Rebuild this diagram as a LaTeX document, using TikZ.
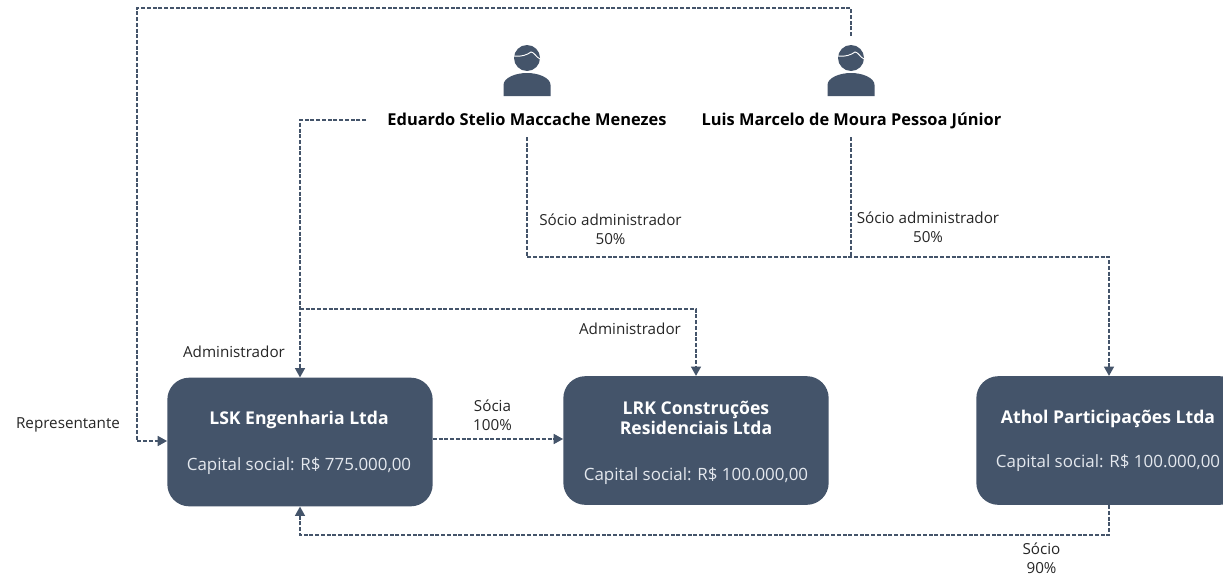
\documentclass[tikz,border=0pt]{standalone}
\usepackage{fontspec}
\setmainfont{Open Sans}
\usetikzlibrary{arrows.meta,calc}
\definecolor{slate}{HTML}{44546A}
\definecolor{boxtext}{HTML}{E4E8EE}
\tikzset{
  x=0.75pt,y=-0.75pt,
  company/.style={draw=none,fill=slate,rounded corners=16.5pt,minimum width=199pt,minimum height=96.5pt,inner sep=0pt},
  ctitle/.style={text=white,font=\fontsize{13.2}{15.6}\selectfont\bfseries,align=center,inner sep=0pt},
  csub/.style={text=boxtext,font=\fontsize{12.7}{14}\selectfont,inner sep=0pt},
  pname/.style={text=black,font=\fontsize{12.3}{14}\selectfont\bfseries,inner sep=0pt,anchor=base},
  lbl/.style={text=black!85,font=\fontsize{11.4}{14.2}\selectfont,align=center,inner sep=0pt},
  link/.style={draw=slate,line width=1.05pt,dash pattern=on 3pt off 1.3pt},
  tip/.style={-{Triangle[length=7pt,width=7.5pt,fill=slate]}},
  pics/person/.style={code={
    \fill[slate] (-23.5,38) -- (-23.5,27) .. controls (-23.5,20) and (-12,15) .. (0,15) .. controls (12,15) and (23.5,20) .. (23.5,27) -- (23.5,38) -- cycle;
    \fill[slate] (0,0) circle[radius=13];
    \draw[white,line width=0.7pt] (-13,-2) .. controls (-6,-1) and (0,-3) .. (4,-6) .. controls (7,-6) and (9,-1) .. (13,1);
  }}
}
\begin{document}
\begin{tikzpicture}
\path[use as bounding box] (0,0) rectangle (1223,578);
\clip (0,0) rectangle (1223,578);
\fill[white] (0,0) rectangle (1223,578);

\node[company] (lsk) at (300,442) {};
\node[company] (lrk) at (696,440.5) {};
\node[company] (athol) at (1109,440.5) {};

\node[ctitle] (lskT) at (299,420) {LSK Engenharia Ltda};
\node[csub] (lskS) at (299,466) {Capital social: R\$ 775.000,00};
\node[ctitle] (lrkT) at (696,418) {LRK Construções\\Residenciais Ltda};
\node[csub] (lrkS) at (696,476) {Capital social: R\$ 100.000,00};
\node[ctitle] (atholT) at (1108,419) {Athol Participações Ltda};
\node[csub] (atholS) at (1108,463) {Capital social: R\$ 100.000,00};

\path (527,58) pic {person};
\path (851,58) pic {person};
\node[pname] (edu) at (527,125) {Eduardo Stelio Maccache Menezes};
\node[pname] (luis) at (851.5,125) {Luis Marcelo de Moura Pessoa Júnior};

\node[lbl] (l1) at (610.5,229) {Sócio administrador\\50\%};
\node[lbl] (l2) at (928,227) {Sócio administrador\\50\%};
\node[lbl] (l3) at (630,329) {Administrador};
\node[lbl] (l4) at (234,352) {Administrador};
\node[lbl] (l5) at (68,425) {Representante};
\node[lbl] (l6) at (492.5,415) {Sócia\\100\%};
\node[lbl] (l7) at (1041.5,558) {Sócio\\90\%};

\coordinate (luisTop) at (851,36);
\coordinate (a1) at (851,8);
\coordinate (a2) at (137,8);
\coordinate (a3) at (137,441);
\coordinate (lskW) at (lsk.west |- a3);
\draw[link,tip] (luisTop) -- (a1) -- (a2) -- (a3) -- (lskW);

\coordinate (eduW) at (366,120);
\coordinate (b1) at (lsk.north |- eduW);
\draw[link,tip] (eduW) -- (b1) -- (lsk.north);

\coordinate (c1) at (lsk.north |- 0,309);
\coordinate (c2) at (lrk.north |- 0,309);
\draw[link,tip] (c1) -- (c2) -- (lrk.north);

\coordinate (d0) at (0,439);
\draw[link,tip] (lsk.east |- d0) -- (lrk.west |- d0);

\coordinate (eduS) at (527,137);
\coordinate (e1) at (527,257);
\coordinate (e2) at (athol.north |- e1);
\draw[link,tip] (eduS) -- (e1) -- (e2) -- (athol.north);

\coordinate (luisS) at (851,137);
\coordinate (f1) at (851,257);
\draw[link] (luisS) -- (f1);

\coordinate (g1) at (athol.south |- 0,535);
\coordinate (g2) at (lsk.south |- 0,535);
\draw[link,tip] (athol.south) -- (g1) -- (g2) -- (lsk.south);
\end{tikzpicture}
\end{document}
